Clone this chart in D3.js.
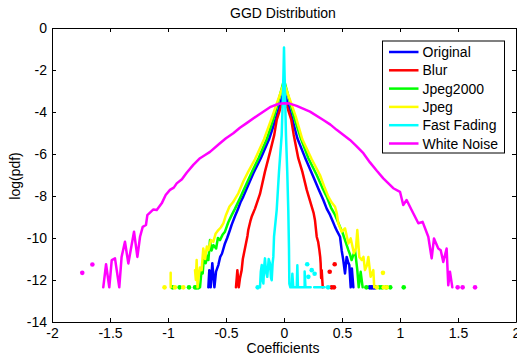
<!DOCTYPE html>
<html>
<head>
<meta charset="utf-8">
<script src="https://cdn.jsdelivr.net/npm/d3@7"></script>
<style>
  html, body { margin: 0; padding: 0; background: #fff; }
  svg { display: block; font-family: "Liberation Sans", Arial, sans-serif; }
  .axis text { font-size: 14px; fill: #000; }
  .axis path, .axis line { stroke: #000; }
</style>
</head>
<body>
<svg id="chart" width="517" height="359"></svg>
<script>
// tick values and series names
const xTicks = [-2, -1.5, -1, -0.5, 0, 0.5, 1, 1.5, 2];
const yTicks = [0, -2, -4, -6, -8, -10, -12, -14];
const seriesNames = ['Original', 'Blur', 'Jpeg2000', 'Jpeg', 'Fast Fading', 'White Noise'];
const seriesColors = ['#0000ff', '#ff0000', '#00ff00', '#ffff00', '#00ffff', '#ff00ff'];

// [coefficient, log(pdf)]; null = gap (empty bin)
const originalPts = [
  [-0.652, -12.35], [-0.644, -11.53], [-0.632, -12.35], [-0.618, -11.2], [-0.6, -12.35], [-0.586, -11.6],
  [-0.566, -11.29], [-0.55, -10.9], [-0.535, -10.75], [-0.509, -10.26], [-0.49, -10.0], [-0.466, -9.62],
  [-0.45, -9.35], [-0.422, -8.95], [-0.4, -8.67], [-0.375, -8.3], [-0.351, -8.03], [-0.31, -7.5],
  [-0.264, -6.92], [-0.2, -6.2], [-0.129, -5.3], [-0.07, -4.3], [-0.03, -3.55], [0, -3.02],
  [0.03, -3.55], [0.07, -4.3], [0.115, -5.25], [0.18, -6.15], [0.25, -7.05], [0.3, -7.7],
  [0.339, -8.19], [0.368, -8.6], [0.397, -8.9], [0.42, -9.2], [0.44, -9.47], [0.46, -9.7],
  [0.483, -9.94], [0.497, -10.58], [0.511, -11.05], [0.526, -11.69], [0.54, -10.9], [0.552, -11.14],
  [0.563, -11.29], [0.575, -12.35], [0.585, -11.45], [0.598, -12.35]
];
const originalDots = [[0.74, -12.35], [0.755, -12.35], [0.77, -12.35], [0.785, -12.35]];

const blurPts = [
  [-0.414, -12.35], [-0.402, -11.53], [-0.39, -12.35], [-0.379, -11.9], [-0.365, -11.53], [-0.355, -11.0],
  [-0.345, -10.73], [-0.328, -10.26], [-0.315, -9.9], [-0.308, -9.62], [-0.29, -9.2], [-0.279, -8.99],
  [-0.25, -8.6], [-0.207, -7.9], [-0.164, -6.84], [-0.12, -5.9], [-0.084, -5.09], [-0.063, -4.38],
  [-0.03, -3.8], [0, -3.42], [0.03, -3.8], [0.063, -4.38], [0.084, -5.09], [0.123, -6.2],
  [0.158, -6.84], [0.196, -7.71], [0.239, -8.51], [0.255, -8.8], [0.267, -9.15], [0.282, -9.94],
  [0.295, -10.2], [0.305, -10.58], [0.312, -10.9], [0.316, -11.21], [0.32, -11.9], [0.325, -11.53],
  [0.334, -12.35]
];
const blurDots = [[0.394, -11.61], [0.411, -12.35], [0.431, -12.35], [0.437, -11.25]];

const jpeg2000Pts = [
  [-0.724, -12.35], [-0.712, -11.6], [-0.701, -11.69], [-0.69, -10.9], [-0.675, -11.2], [-0.66, -10.85],
  [-0.652, -11.05], [-0.638, -10.1], [-0.625, -10.6], [-0.609, -10.34], [-0.585, -10.5], [-0.57, -10.0],
  [-0.552, -10.1], [-0.53, -9.85], [-0.509, -9.7], [-0.48, -9.25], [-0.451, -8.91], [-0.422, -8.6],
  [-0.379, -8.1], [-0.33, -7.5], [-0.285, -6.95], [-0.22, -6.2], [-0.149, -5.3], [-0.09, -4.3],
  [-0.04, -3.3], [0, -2.47], [0.04, -3.3], [0.09, -4.3], [0.145, -5.25], [0.21, -6.2],
  [0.282, -7.0], [0.33, -7.6], [0.368, -8.03], [0.405, -8.55], [0.44, -8.9], [0.483, -9.47],
  [0.505, -9.75], [0.526, -10.1], [0.555, -10.58], [0.57, -10.8], [0.583, -11.05], [0.598, -10.8],
  [0.612, -10.58], [0.632, -11.53], [0.644, -12.35], [0.661, -11.61], [0.678, -12.35]
];
const jpeg2000Dots = [
  [-0.96, -12.35], [-0.9, -12.35], [-0.819, -12.35], [-0.767, -12.35], [-0.755, -12.35], [-0.74, -12.35],
  [0.71, -12.35], [0.825, -12.35], [0.845, -12.35], [0.882, -12.35], [0.916, -12.35], [1.032, -12.35]
];

const jpegPts = [
  [-0.977, -12.35], [-0.977, -11.66], null,
  [-0.767, -11.53], [-0.76, -12.0], [-0.753, -11.05], [-0.745, -12.35], [-0.739, -12.0], [-0.725, -11.4],
  [-0.71, -11.53], [-0.696, -10.5], [-0.68, -11.0], [-0.665, -10.4], [-0.652, -10.58], [-0.63, -10.1],
  [-0.609, -10.18], [-0.59, -9.8], [-0.566, -9.62], [-0.545, -9.5], [-0.523, -9.3], [-0.5, -8.9],
  [-0.47, -8.5], [-0.44, -8.3], [-0.394, -7.87], [-0.35, -7.3], [-0.308, -6.84], [-0.25, -6.25],
  [-0.172, -5.3], [-0.1, -4.2], [-0.05, -3.4], [0, -2.62], [0.05, -3.4], [0.1, -4.2],
  [0.158, -5.3], [0.239, -6.25], [0.31, -7.0], [0.35, -7.6], [0.382, -8.03], [0.41, -8.3],
  [0.44, -8.51], [0.454, -8.8], [0.468, -9.3], [0.497, -9.7], [0.526, -9.54], [0.555, -10.26],
  [0.575, -10.02], [0.603, -10.73], [0.62, -10.5], [0.632, -9.62], [0.649, -10.9], [0.67, -11.05],
  [0.685, -10.9], [0.698, -11.53], [0.715, -11.3], [0.727, -10.9], [0.747, -11.85], [0.77, -11.53],
  [0.778, -12.35]
];
const jpegDots = [
  [-1.03, -12.35], [-0.94, -12.35], [-0.868, -12.35],
  [0.8, -12.35], [0.853, -11.66], [0.86, -12.35], [0.885, -12.35]
];

const fastFadingPts = [
  [-0.207, -12.35], [-0.2, -11.6], [-0.192, -11.29], [-0.185, -12.0], [-0.178, -12.17], [-0.17, -11.3],
  [-0.164, -10.97], [-0.155, -11.6], [-0.144, -11.85], [-0.132, -11.0], [-0.121, -11.21], [-0.112, -11.9],
  [-0.106, -12.01], [-0.098, -11.2], [-0.092, -10.9], [-0.086, -9.94], [-0.063, -8.67], [-0.043, -6.84],
  [-0.02, -5.09], [-0.01, -3.4], [-0.004, -2.0], [0, -0.93], [0.004, -2.0], [0.01, -3.4],
  [0.017, -5.09], [0.028, -6.84], [0.037, -8.67], [0.043, -10.5], [0.046, -12.17], [0.055, -12.35],
  [0.066, -12.35], [0.072, -11.7], [0.08, -12.35], [0.11, -12.35], [0.115, -11.3], [0.12, -12.35],
  [0.15, -12.35], [0.178, -12.35], [0.178, -11.6], [0.185, -12.35], [0.23, -12.35], null,
  [0.26, -12.35], [0.3, -12.35], [0.35, -12.35]
];
const fastFadingDots = [[-0.227, -12.35], [0.2, -11.25], [0.21, -11.85], [0.239, -11.53], [0.264, -11.7], [0.38, -12.35]];

const whiteNoisePts = [
  [-1.558, -12.35], [-1.534, -11.25], [-1.506, -12.35], [-1.485, -11.05], [-1.457, -10.97], [-1.42, -12.35],
  [-1.4, -10.9], [-1.371, -10.18], [-1.342, -11.21], [-1.293, -9.7], [-1.264, -10.9], [-1.241, -9.94],
  [-1.218, -9.47], [-1.19, -9.38], [-1.178, -8.91], [-1.126, -8.64], [-1.097, -8.67], [-1.054, -8.35],
  [-1.02, -7.95], [-0.983, -7.71], [-0.95, -7.6], [-0.925, -7.4], [-0.88, -7.2], [-0.839, -6.89],
  [-0.782, -6.52], [-0.724, -6.2], [-0.68, -6.05], [-0.638, -5.9], [-0.552, -5.49], [-0.5, -5.25],
  [-0.437, -5.01], [-0.38, -4.75], [-0.322, -4.53], [-0.221, -4.14], [-0.121, -3.77], [-0.05, -3.62],
  [0, -3.58], [0.05, -3.6], [0.109, -3.71], [0.224, -3.98], [0.339, -4.38], [0.4, -4.6],
  [0.454, -4.85], [0.569, -5.33], [0.62, -5.6], [0.684, -5.96], [0.741, -6.4], [0.8, -6.8],
  [0.856, -7.16], [0.9, -7.4], [0.942, -7.63], [1.0, -7.8], [1.028, -8.43], [1.057, -8.19],
  [1.1, -8.67], [1.158, -9.3], [1.195, -9.23], [1.244, -9.94], [1.273, -10.97], [1.293, -10.02],
  [1.33, -10.5], [1.351, -10.58], [1.373, -11.14], [1.402, -10.5], [1.416, -12.25], [1.431, -11.61],
  [1.451, -12.35]
];
const whiteNoiseDots = [[-1.739, -11.66], [-1.652, -11.26], [1.497, -12.35], [1.54, -12.35], [1.647, -12.35]];

class GgdChart {
    constructor(svgId) {
        this.svg = d3.select(svgId);
        this.left = 52;
        this.right = 516;
        this.top = 28;
        this.bottom = 322;
        this.x = d3.scaleLinear().domain([-2, 2]).range([this.left, this.right]);
        this.y = d3.scaleLinear().domain([-14, 0]).range([this.bottom, this.top]);
        this.series = [
            { pts: originalPts, dots: originalDots },
            { pts: blurPts, dots: blurDots },
            { pts: jpeg2000Pts, dots: jpeg2000Dots },
            { pts: jpegPts, dots: jpegDots },
            { pts: fastFadingPts, dots: fastFadingDots },
            { pts: whiteNoisePts, dots: whiteNoiseDots }
        ];
    }

    render() {
        this.drawCurves();
        this.drawAxes();
        this.drawLabels();
        this.drawLegend();
    }

    drawCurves() {
        this.svg.append('defs').append('clipPath').attr('id', 'plot-clip')
            .append('rect')
            .attr('x', this.left).attr('y', this.top)
            .attr('width', this.right - this.left).attr('height', this.bottom - this.top);

        const line = d3.line()
            .defined(d => d !== null)
            .x(d => this.x(d[0]))
            .y(d => this.y(d[1]));

        const g = this.svg.append('g').attr('clip-path', 'url(#plot-clip)');
        this.series.forEach((s, i) => {
            const color = seriesColors[i];
            g.append('path')
                .attr('d', line(s.pts))
                .attr('fill', 'none')
                .attr('stroke', color)
                .attr('stroke-width', 2.5)
                .attr('stroke-linejoin', 'round')
                .attr('stroke-linecap', 'round');
            // isolated bins show up as single dots
            g.selectAll(null)
                .data(s.dots)
                .enter().append('circle')
                .attr('cx', d => this.x(d[0]))
                .attr('cy', d => this.y(d[1]))
                .attr('r', 2.3)
                .attr('fill', color);
        });
    }

    drawAxes() {
        const fmt = d => d3.format('')(d).replace('−', '-');

        this.svg.append('g').attr('class', 'axis')
            .attr('transform', `translate(0,${this.bottom})`)
            .call(d3.axisBottom(this.x).tickValues(xTicks).tickFormat(fmt).tickSize(-4).tickSizeOuter(0).tickPadding(6));
        this.svg.append('g').attr('class', 'axis')
            .attr('transform', `translate(0,${this.top})`)
            .call(d3.axisTop(this.x).tickValues(xTicks).tickFormat('').tickSize(-4).tickSizeOuter(0));
        this.svg.append('g').attr('class', 'axis')
            .attr('transform', `translate(${this.left},0)`)
            .call(d3.axisLeft(this.y).tickValues(yTicks).tickFormat(fmt).tickSize(-4).tickSizeOuter(0).tickPadding(5));
        this.svg.append('g').attr('class', 'axis')
            .attr('transform', `translate(${this.right},0)`)
            .call(d3.axisRight(this.y).tickValues(yTicks).tickFormat('').tickSize(-4).tickSizeOuter(0));

        this.svg.selectAll('.axis text').attr('font-family', null).attr('font-size', null);
    }

    drawLabels() {
        this.svg.append('text')
            .attr('x', 283).attr('y', 18)
            .attr('text-anchor', 'middle')
            .attr('font-size', 14)
            .text('GGD Distribution');
        this.svg.append('text')
            .attr('x', 283).attr('y', 353)
            .attr('text-anchor', 'middle')
            .attr('font-size', 14)
            .text('Coefficients');
        this.svg.append('text')
            .attr('transform', 'translate(20,176) rotate(-90)')
            .attr('text-anchor', 'middle')
            .attr('font-size', 14)
            .text('log(pdf)');
    }

    drawLegend() {
        const lg = this.svg.append('g').attr('transform', 'translate(382.5,41)');
        lg.append('rect')
            .attr('width', 122).attr('height', 112)
            .attr('fill', '#fff')
            .attr('stroke', '#000')
            .attr('stroke-width', 1);
        seriesNames.forEach((name, i) => {
            const yy = 11 + i * 18.3;
            lg.append('line')
                .attr('x1', 6.5).attr('x2', 36)
                .attr('y1', yy).attr('y2', yy)
                .attr('stroke', seriesColors[i])
                .attr('stroke-width', 2.5);
            lg.append('text')
                .attr('x', 40).attr('y', yy + 5)
                .attr('font-size', 14)
                .text(name);
        });
    }
}

const chart = new GgdChart('#chart');
chart.render();
</script>
</body>
</html>
